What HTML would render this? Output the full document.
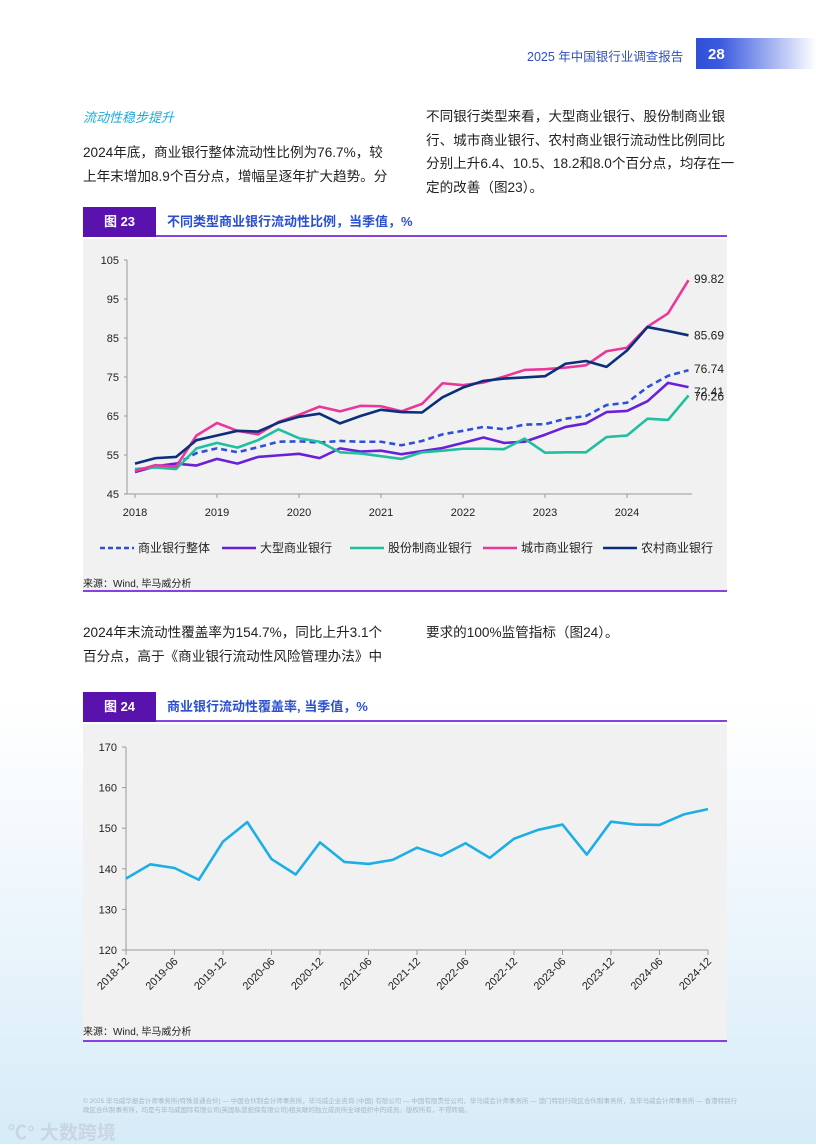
<!DOCTYPE html>
<html><head><meta charset="utf-8">
<style>
*{margin:0;padding:0;box-sizing:border-box}
body{width:816px;height:1144px;position:relative;overflow:hidden;font-family:"Liberation Sans","Noto Sans CJK SC",sans-serif;background:linear-gradient(180deg,#fff 0,#fff 700px,#eef6fc 900px,#d6ebf8 1144px);color:#222}
.abs{position:absolute}
.p{font-size:13.6px;line-height:23.5px;color:#222;white-space:nowrap}
.fig{position:absolute;left:83px;width:644px;height:30px;border-bottom:2px solid #8a3fe0}
.fig .num{position:absolute;left:0;top:0;width:73px;height:30px;background:#5a12ae;color:#fff;font-weight:bold;font-size:13px;line-height:30px;text-align:center}
.fig .t{position:absolute;left:84px;top:0;line-height:30px;font-size:13px;font-weight:bold;color:#2a4fd1}
.src{font-size:10px;color:#222}
</style></head><body>
<div class="abs" style="left:527px;top:46px;font-size:12.5px;color:#2f4fc0">2025 年中国银行业调查报告</div>
<div class="abs" style="left:696px;top:38px;width:120px;height:31px;background:linear-gradient(90deg,#2f4fd6 0,#3a5ae0 20%,#fff 100%);color:#fff;font-weight:bold;font-size:15px;line-height:33px;padding-left:12px">28</div>

<div class="abs" style="left:83px;top:107px;font-size:13px;font-style:italic;color:#1aa8dc">流动性稳步提升</div>
<div class="abs p" style="left:83px;top:141px">2024年底，商业银行整体流动性比例为76.7%，较<br>上年末增加8.9个百分点，增幅呈逐年扩大趋势。分</div>
<div class="abs p" style="left:426px;top:105px">不同银行类型来看，大型商业银行、股份制商业银<br>行、城市商业银行、农村商业银行流动性比例同比<br>分别上升6.4、10.5、18.2和8.0个百分点，均存在一<br>定的改善（图23）。</div>

<div class="fig" style="top:207px"><div class="num">图 23</div><div class="t">不同类型商业银行流动性比例，当季值，%</div></div>
<div class="abs" style="left:83px;top:239px;width:644px;height:353px;background:#f1f1f1;border-bottom:2px solid #8a3fe0"></div>
<div class="abs src" style="left:83px;top:575px">来源：Wind, 毕马威分析</div>

<div class="abs p" style="left:83px;top:621px">2024年末流动性覆盖率为154.7%，同比上升3.1个<br>百分点，高于《商业银行流动性风险管理办法》中</div>
<div class="abs p" style="left:426px;top:621px">要求的100%监管指标（图24）。</div>

<div class="fig" style="top:692px"><div class="num">图 24</div><div class="t">商业银行流动性覆盖率, 当季值，%</div></div>
<div class="abs" style="left:83px;top:724px;width:644px;height:318px;background:#f1f1f1;border-bottom:2px solid #8a3fe0"></div>
<div class="abs src" style="left:83px;top:1023px">来源：Wind, 毕马威分析</div>

<div class="abs" style="left:83px;top:1097px;width:660px;font-size:6.5px;line-height:9px;color:#a9b6c4">© 2025 毕马威华振会计师事务所(特殊普通合伙) — 中国合伙制会计师事务所，毕马威企业咨询 (中国) 有限公司 — 中国有限责任公司，毕马威会计师事务所 — 澳门特别行政区合伙制事务所，及毕马威会计师事务所 — 香港特别行政区合伙制事务所，均是与毕马威国际有限公司(英国私营担保有限公司)相关联的独立成员所全球组织中的成员。版权所有，不得转载。</div>
<div class="abs" style="left:8px;top:1118px;font-size:19px;color:#c9d6e2;font-weight:bold">℃° 大数跨境</div>

<svg class="abs" style="left:0;top:0" width="816" height="1144" id="svg"></svg>
<script>
const years1=["2018","2019","2020","2021","2022","2023","2024"];
const yTicks1=[45,55,65,75,85,95,105];
const total=[51,51.9,52.7,55.5,56.7,55.7,57,58.4,58.5,58.2,58.6,58.4,58.4,57.5,58.6,60.3,61.2,62.2,61.6,62.8,62.9,64.3,65,67.8,68.4,72.4,75.3,76.74];
const large=[50.6,52.1,52.8,52.3,54,52.8,54.5,54.9,55.3,54.2,56.7,55.9,56.1,55.2,56,56.8,58.1,59.5,58.1,58.4,60.2,62.2,63.1,66,66.3,68.8,73.5,72.41];
const joint=[51.4,51.8,51.4,56.7,58.1,56.9,58.8,61.6,59.3,58.4,55.7,55.4,54.7,54,55.7,56.1,56.6,56.6,56.5,59.2,55.6,55.7,55.7,59.6,60,64.3,64,70.26];
const city=[50.9,52.4,52,60,63.2,61.2,60.3,63.5,65.3,67.4,66.2,67.6,67.5,66.2,68.1,73.4,72.9,73.6,75.1,76.8,77,77.4,78,81.6,82.5,87.9,91.3,99.82];
const rural=[52.8,54.2,54.5,58.8,60,61.2,61,63.3,64.8,65.6,63.1,65,66.6,66,65.9,69.8,72.3,74,74.6,74.9,75.2,78.4,79.1,77.6,81.8,87.8,86.8,85.69];
const lcr=[137.6,141.1,140.2,137.3,146.7,151.5,142.4,138.6,146.5,141.7,141.2,142.2,145.2,143.2,146.3,142.7,147.4,149.6,150.9,143.5,151.6,150.9,150.8,153.4,154.7];
const dates2=["2018-12","2019-06","2019-12","2020-06","2020-12","2021-06","2021-12","2022-06","2022-12","2023-06","2023-12","2024-06","2024-12"];
const yTicks2=[120,130,140,150,160,170];

const svg=document.getElementById('svg');
const NS='http://www.w3.org/2000/svg';
function mk(tag,attrs,txt){const e=document.createElementNS(NS,tag);for(const k in attrs)e.setAttribute(k,attrs[k]);if(txt!==undefined)e.textContent=txt;svg.appendChild(e);return e;}
const x1=i=>135+i*20.5, y1=v=>494-(v-45)*(234/60);
let e;
e=mk('line',{x1:127,y1:y1(105),x2:127,y2:494,stroke:'#999','stroke-width':1});

e=mk('line',{x1:127,y1:494,x2:692,y2:494,stroke:'#999','stroke-width':1});

yTicks1.forEach(v=>{e=mk('text',{x:119,y:y1(v)+4,'text-anchor':'end','font-size':11,fill:'#222'},v);

mk('line',{x1:124,y1:y1(v),x2:127,y2:y1(v),stroke:'#999'});});
years1.forEach((t,i)=>{const xx=x1(i*4);mk('line',{x1:xx,y1:494,x2:xx,y2:498,stroke:'#999'});
e=mk('text',{x:xx,y:516,'text-anchor':'middle','font-size':11,fill:'#222'},t);
});
const series=[[total,'#2f4fd6','6 4','total-line'],[large,'#6a1fd8','','large-bank-line'],[joint,'#1fbfa0','','joint-stock-line'],[city,'#e9389a','','city-bank-line'],[rural,'#0b2f7a','','rural-bank-line']];
series.forEach(s=>{const d=s[0].map((v,i)=>(i?'L':'M')+x1(i)+','+y1(v)).join(' ');
e=mk('path',{d:d,fill:'none',stroke:s[1],'stroke-width':2.6,'stroke-dasharray':s[2]||'none','stroke-linejoin':'round'});
});
[[city,-1],[rural,0],[total,-1],[large,5],[joint,1]].forEach(a=>{const v=a[0][a[0].length-1];
e=mk('text',{x:694,y:y1(v)+4+a[1],'font-size':12,fill:'#222'},v.toFixed(2));
});
const leg=[['商业银行整体',100,'#2f4fd6','5 3'],['大型商业银行',222,'#6a1fd8',''],['股份制商业银行',350,'#1fbfa0',''],['城市商业银行',483,'#e9389a',''],['农村商业银行',603,'#0b2f7a','']];
leg.forEach(l=>{mk('line',{x1:l[1],y1:548,x2:l[1]+34,y2:548,stroke:l[2],'stroke-width':2.6,'stroke-dasharray':l[3]||'none'});
e=mk('text',{x:l[1]+38,y:552,'font-size':12,fill:'#222'},l[0]);
});
const x2=i=>126+i*24.25, y2=v=>950-(v-120)*(203/50);
e=mk('line',{x1:126,y1:747,x2:126,y2:950,stroke:'#999'});

e=mk('line',{x1:126,y1:950,x2:708,y2:950,stroke:'#999'});

yTicks2.forEach(v=>{mk('line',{x1:122,y1:y2(v),x2:126,y2:y2(v),stroke:'#999'});
e=mk('text',{x:117,y:y2(v)+4,'text-anchor':'end','font-size':11,fill:'#222'},v);
});
dates2.forEach((t,i)=>{const xx=x2(i*2);mk('line',{x1:xx,y1:950,x2:xx,y2:955,stroke:'#999'});
e=mk('text',{x:xx+4,y:962,'text-anchor':'end','font-size':11,fill:'#222',transform:'rotate(-45 '+(xx+4)+' 962)'},t);
});
e=mk('path',{d:lcr.map((v,i)=>(i?'L':'M')+x2(i)+','+y2(v)).join(' '),fill:'none',stroke:'#1eaee6','stroke-width':2.6,'stroke-linejoin':'round'});

</script>
</body></html>
